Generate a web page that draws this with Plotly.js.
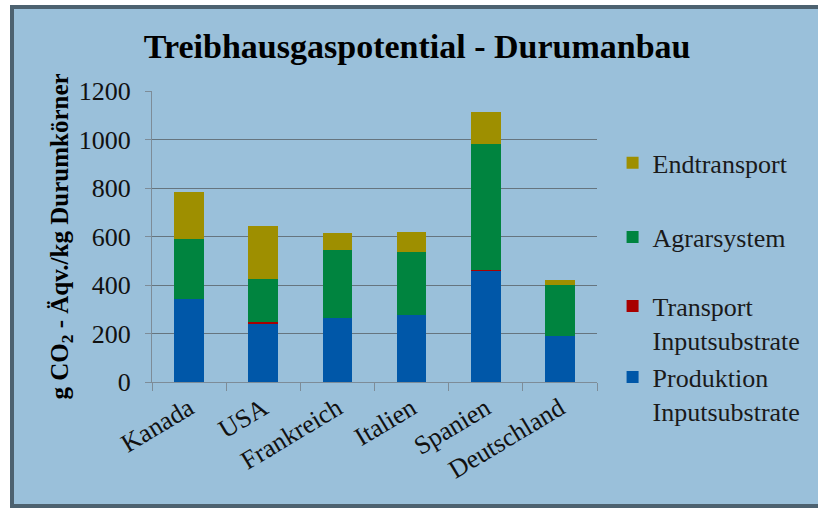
<!DOCTYPE html>
<html>
<head>
<meta charset="utf-8">
<script src="https://cdn.plot.ly/plotly-3.0.1.min.js"></script>
<style>
  html, body { margin: 0; padding: 0; background: #ffffff; overflow: hidden; }
  #wrap { position: relative; width: 818px; height: 508px; overflow: hidden; }
  #frame { position: absolute; left: 10px; top: 5px; width: 840px; height: 495px;
           background: #9ac0da; border: 4px solid #4d6270; }
  #chart { position: absolute; left: 0; top: 0; width: 818px; height: 508px; }
</style>
</head>
<body>
<div id="wrap">
  <div id="frame"></div>
  <div id="chart"></div>
</div>
<script>
// Data (g CO2-Äqv./kg Durumkörner)
var categories = ['Kanada', 'USA', 'Frankreich', 'Italien', 'Spanien', 'Deutschland'];
var produktionInput = [343, 240, 262, 276, 456, 189];
var transportInput  = [0, 7, 0, 0, 6, 0];
var agrarsystem     = [248, 176, 282, 259, 521, 211];
var endtransport    = [192, 220, 69, 85, 130, 21];

var seriesNames = ['Produktion<br>Inputsubstrate', 'Transport<br>Inputsubstrate', 'Agrarsystem', 'Endtransport'];
var seriesColors = ['#0057a8', '#a80000', '#00843f', '#9e8f00'];
var seriesValues = [produktionInput, transportInput, agrarsystem, endtransport];
var legendIds = ['legend4', 'legend3', 'legend2', 'legend'];

var SERIF = '"Liberation Serif"';

var traces = seriesValues.map(function (vals, i) {
  return {
    type: 'bar',
    x: categories,
    y: vals,
    name: seriesNames[i],
    legend: legendIds[i],
    marker: { color: seriesColors[i], line: { width: 0 } },
    width: 0.4
  };
});

var legendFont = { family: SERIF, size: 26, color: '#1a1a1a' };
function mkLegend(y) {
  return {
    x: 1.035, y: y, xanchor: 'left', yanchor: 'middle',
    bgcolor: 'rgba(0,0,0,0)', borderwidth: 0,
    font: legendFont, itemwidth: 30, valign: 'top',
    itemclick: false, itemdoubleclick: false
  };
}

var layout = {
  width: 818, height: 508, autosize: false,
  paper_bgcolor: 'rgba(0,0,0,0)',
  plot_bgcolor: 'rgba(0,0,0,0)',
  margin: { l: 152, r: 221, t: 91, b: 126, pad: 0 },
  barmode: 'stack',
  bargap: 0.6,
  font: { family: SERIF, size: 26, color: '#111111' },
  title: {
    text: '<b>Treibhausgaspotential - Durumanbau</b>',
    font: { family: SERIF, size: 34, color: '#000000' },
    x: 0.51, xanchor: 'center', xref: 'container',
    y: 0.91, yanchor: 'middle', yref: 'container'
  },
  xaxis: {
    type: 'category',
    showline: true, linecolor: '#7d8c98', linewidth: 1,
    ticks: 'outside', tickson: 'boundaries', ticklen: 8, tickcolor: '#7d8c98', tickwidth: 1,
    tickangle: -31,
    tickfont: { family: SERIF, size: 26, color: '#111111' },
    showgrid: false,
    automargin: false
  },
  yaxis: {
    range: [0, 1200],
    tickvals: [0, 200, 400, 600, 800, 1000, 1200],
    showline: true, linecolor: '#7d8c98', linewidth: 1,
    ticks: 'outside', ticklen: 6, tickcolor: '#7d8c98', tickwidth: 1,
    ticklabelstandoff: 9,
    showgrid: true, gridcolor: '#66757f', gridwidth: 1,
    zeroline: false,
    tickfont: { family: SERIF, size: 26, color: '#111111' },
    automargin: false,
    title: {
      text: '<b>g CO<sub>2</sub> - Äqv./kg Durumkörner</b>',
      font: { family: SERIF, size: 25, color: '#000000' }
    }
  },
  legend: mkLegend(0.753),
  legend2: mkLegend(0.498),
  legend3: mkLegend(0.202),
  legend4: mkLegend(-0.042),
  showlegend: true
};

Plotly.newPlot('chart', traces, layout, { displayModeBar: false, staticPlot: true });
</script>
</body>
</html>
